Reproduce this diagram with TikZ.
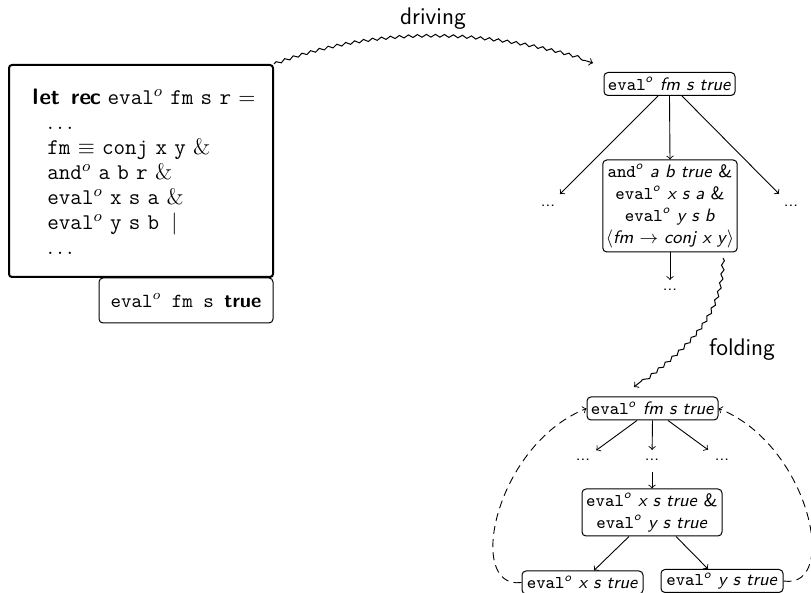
\documentclass[tikz,border=0pt]{standalone}
\usetikzlibrary{decorations.pathmorphing}

% eval^o / and^o as set in the sans-serif tree nodes
\newcommand\tteval{\texttt{eval}\textsuperscript{\textit{o}}}
\newcommand\ttand{\texttt{and}\textsuperscript{\textit{o}}}
% program text: typewriter words, bold keywords on a fixed pitch
\newcommand\cw[1]{\texttt{#1}}
\newcommand\kwch[1]{\makebox[5pt]{\sffamily\bfseries #1}}
\newcommand\kwletrec{\kwch{l}\kwch{e}\kwch{t}\kwch{}\kwch{r}\kwch{e}\kwch{c}}

\begin{document}
\begin{tikzpicture}[x=0.5pt,y=-0.5pt,
  box/.style={draw, rounded corners=2pt, line width=0.5pt, font=\sffamily\small,
    inner xsep=1.5pt, inner ysep=1.5pt, minimum height=11.5pt, align=center},
  codeframe/.style={draw, line width=1pt, rounded corners=1.5pt,
    minimum width=132pt, minimum height=106pt},
  codetext/.style={align=left, inner sep=0pt, anchor=north west,
    font=\fontsize{11.2}{11.75}\selectfont},
  initbox/.style={draw, line width=0.5pt, rounded corners=2pt,
    minimum width=87pt, minimum height=22.5pt},
  more/.style={font=\sffamily\footnotesize, inner sep=0pt},
  arr/.style={->, line width=0.45pt},
  wave/.style={->, line width=0.5pt, decorate,
    decoration={snake, amplitude=0.7pt, segment length=4.5pt, post length=2.5pt}},
  back/.style={->, line width=0.45pt, dash pattern=on 4pt off 2.6pt},
  lbl/.style={font=\sffamily\large}]

\useasboundingbox (0,0) rectangle (811,593);

% ---- program text and the initial goal ----
\node[codeframe] (code) at (141,171) {};
\node[codetext] (codetxt) at (30,89) {%
  \kwletrec{} \cw{eval}$^o$ \cw{fm} \cw{s} \cw{r} $=$\\[0.75pt]
  \hspace*{8.5pt}$\ldots$\\[0.75pt]
  \hspace*{8.5pt}\cw{fm} $\equiv$ \cw{conj} \cw{x} \cw{y} \&\\[0.75pt]
  \hspace*{8.5pt}\cw{and}$^o$ \cw{a} \cw{b} \cw{r} \&\\[0.75pt]
  \hspace*{8.5pt}\cw{eval}$^o$ \cw{x} \cw{s} \cw{a} \&\\[0.75pt]
  \hspace*{8.5pt}\cw{eval}$^o$ \cw{y} \cw{s} \cw{b}\hspace{6pt}$|$\\[0.75pt]
  \hspace*{8.5pt}$\ldots$};
\node[initbox] (init) at (186,300.5) {{\ttfamily eval$^o$ fm s }\textsf{\bfseries true}};

% ---- driving tree ----
\node[box, minimum width=65.5pt] (t1) at (669.5,84) {\tteval\ \textit{fm s true}};
\node[more] (l1) at (548,206) {...};
\node[more] (r1) at (791,206) {...};
\node[box, minimum width=67pt, minimum height=46pt] (m1) at (670,206)
  {\ttand\ \textit{a b true} \&\\
   \tteval\ \textit{x s a} \&\\
   \tteval\ \textit{y s b}\\
   $\langle$\textit{fm} $\rightarrow$ \textit{conj x y}$\rangle$};
\node[more] (d1) at (670,290) {...};

\draw[arr, shorten >=8.5pt] ([xshift=-5.75pt]t1.south) -- (l1.center);
\draw[arr, shorten >=8.5pt] ([xshift=6.25pt]t1.south) -- (r1.center);
\draw[arr] (t1.south) -- (m1.north);
\draw[arr, shorten >=5pt] (m1.south) -- (d1.center);

% driving arrow and its label
\coordinate (drvend) at (593,63);
\draw[wave] (code.north east) .. controls (380,25) and (490,30) .. (drvend);
\node[lbl] (drvlbl) at (433,19) {driving};

% ---- folded tree ----
\node[box, minimum width=65.5pt] (t2) at (652.5,408.5) {\tteval\ \textit{fm s true}};
\node[more] (l2) at (583,460) {...};
\node[more] (c2) at (652,460) {...};
\node[more] (r2) at (722,460) {...};
\node[box, minimum width=70pt, minimum height=23.5pt] (m2) at (652,512.5)
  {\tteval\ \textit{x s true} \&\\ \tteval\ \textit{y s true}};
\node[box, minimum width=60.5pt] (b2l) at (582.5,582.5) {\tteval\ \textit{x s true}};
\node[box, minimum width=61pt] (b2r) at (722,581) {\tteval\ \textit{y s true}};

\draw[arr, shorten >=8.2pt] ([xshift=-7.75pt]t2.south) -- (l2.center);
\draw[arr, shorten >=5pt] (t2.south) -- (c2.center);
\draw[arr, shorten >=8.6pt] ([xshift=7.75pt]t2.south) -- (r2.center);
\draw[arr, shorten <=6pt] (c2.center) -- (m2.north);
\draw[arr] ([xshift=-11.5pt]m2.south) -- ([xshift=5.75pt]b2l.north);
\draw[arr] ([xshift=12pt]m2.south) -- ([xshift=-7pt]b2r.north);

% back links from the leaves to the folded root
\draw[back] (b2l.west) .. controls (465,590) and (495,445) .. (t2.west);
\draw[back] (b2r.east) .. controls (840,590) and (810,445) .. (t2.east);

% folding arrow and its label
\coordinate (fldstart) at (723,258);
\coordinate (fldend) at (634,387);
\draw[wave] (fldstart) .. controls (723,320) and (680,350) .. (fldend);
\node[lbl] (fldlbl) at (742,350) {folding};
\end{tikzpicture}
\end{document}
